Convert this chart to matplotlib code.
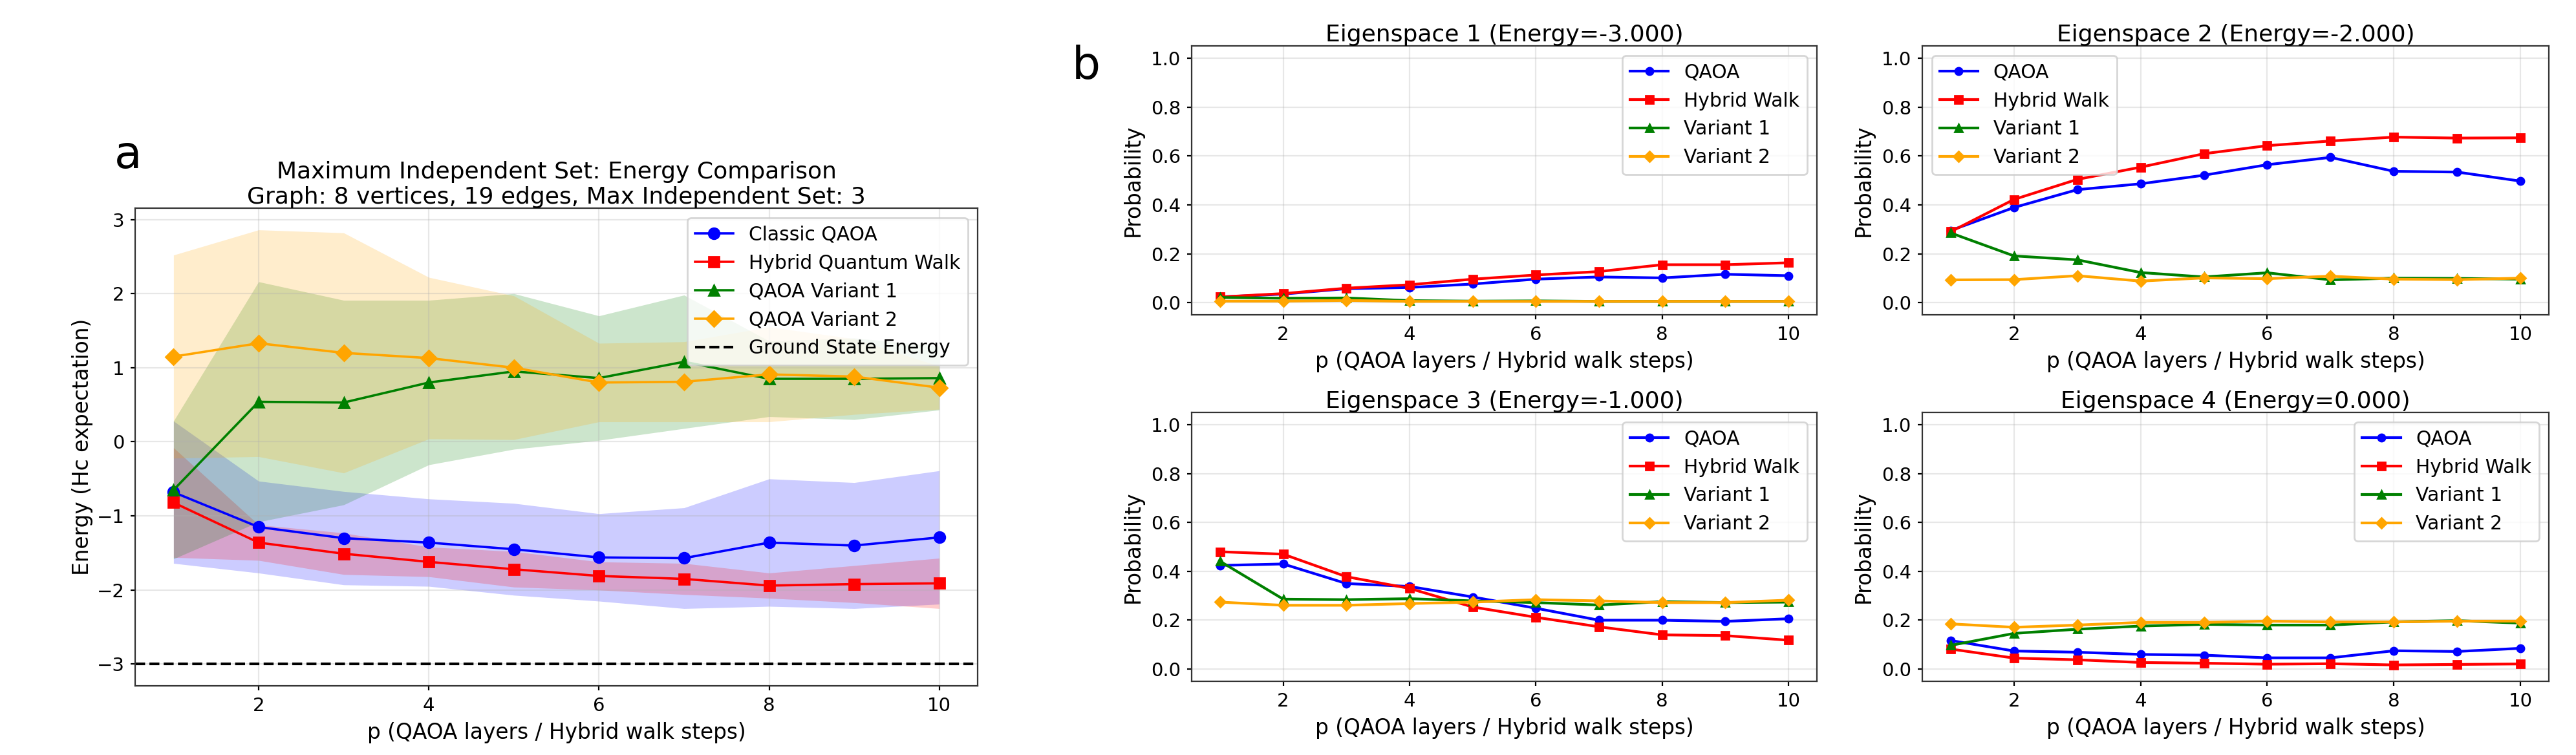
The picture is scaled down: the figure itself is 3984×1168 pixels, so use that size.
import matplotlib
matplotlib.use('Agg')
import matplotlib.pyplot as plt
import numpy as np

# p values (QAOA layers / hybrid walk steps)
p = np.arange(1, 11)

# panel a: mean energy and spread for each method
classic_mean = [-0.68, -1.15, -1.30, -1.36, -1.45, -1.56, -1.57, -1.36, -1.40, -1.29]
classic_std = [0.96, 0.62, 0.63, 0.59, 0.62, 0.59, 0.68, 0.86, 0.85, 0.90]
hybrid_mean = [-0.82, -1.36, -1.51, -1.62, -1.72, -1.81, -1.85, -1.94, -1.92, -1.91]
hybrid_std = [0.74, 0.24, 0.28, 0.20, 0.24, 0.19, 0.21, 0.17, 0.25, 0.34]
var1_mean = [-0.65, 0.54, 0.53, 0.80, 0.95, 0.86, 1.08, 0.85, 0.85, 0.86]
var1_std = [0.93, 1.62, 1.38, 1.11, 1.05, 0.84, 0.90, 0.51, 0.55, 0.43]
var2_mean = [1.15, 1.33, 1.20, 1.13, 1.00, 0.80, 0.81, 0.91, 0.88, 0.73]
var2_std = [1.37, 1.53, 1.62, 1.09, 0.97, 0.53, 0.54, 0.64, 0.51, 0.29]
ground_energy = -3.0

# panel b: probability in each eigenspace
eig_energies = [-3.0, -2.0, -1.0, 0.0]
qaoa_probs = [
    [0.023, 0.035, 0.057, 0.062, 0.076, 0.096, 0.105, 0.101, 0.116, 0.110],
    [0.295, 0.389, 0.462, 0.486, 0.521, 0.564, 0.594, 0.537, 0.534, 0.497],
    [0.424, 0.430, 0.350, 0.338, 0.295, 0.249, 0.200, 0.200, 0.195, 0.206],
    [0.117, 0.074, 0.069, 0.060, 0.057, 0.046, 0.046, 0.075, 0.072, 0.085],
]
hybrid_probs = [
    [0.023, 0.037, 0.059, 0.073, 0.096, 0.113, 0.127, 0.155, 0.155, 0.163],
    [0.290, 0.422, 0.504, 0.554, 0.609, 0.642, 0.661, 0.677, 0.673, 0.674],
    [0.480, 0.470, 0.378, 0.330, 0.254, 0.212, 0.173, 0.140, 0.137, 0.118],
    [0.082, 0.045, 0.038, 0.027, 0.024, 0.020, 0.022, 0.017, 0.019, 0.021],
]
var1_probs = [
    [0.021, 0.018, 0.019, 0.008, 0.006, 0.007, 0.005, 0.005, 0.005, 0.005],
    [0.285, 0.191, 0.175, 0.123, 0.105, 0.122, 0.093, 0.100, 0.099, 0.096],
    [0.441, 0.286, 0.284, 0.288, 0.279, 0.272, 0.262, 0.276, 0.272, 0.274],
    [0.097, 0.146, 0.163, 0.176, 0.183, 0.180, 0.180, 0.193, 0.198, 0.188],
]
var2_probs = [
    [0.006, 0.006, 0.009, 0.005, 0.005, 0.005, 0.005, 0.005, 0.005, 0.005],
    [0.093, 0.094, 0.110, 0.088, 0.101, 0.098, 0.108, 0.096, 0.094, 0.100],
    [0.274, 0.261, 0.261, 0.268, 0.274, 0.284, 0.279, 0.272, 0.272, 0.282],
    [0.185, 0.171, 0.180, 0.191, 0.191, 0.196, 0.193, 0.193, 0.196, 0.196],
]

TICK = 10.5
LABEL = 11.8
TITLE = 13
LEG = 10.7


def style_axes(ax):
    ax.grid(True, alpha=0.3)
    ax.tick_params(labelsize=TICK, length=2.5)
    for s in ax.spines.values():
        s.set_edgecolor('0.2')


fig = plt.figure(figsize=(19.92, 5.84), dpi=200)

# ---- panel a ----
ax = fig.add_axes([0.0525, 0.0916, 0.327, 0.6327])
series = [
    (classic_mean, classic_std, 'blue', 'o', 'Classic QAOA'),
    (hybrid_mean, hybrid_std, 'red', 's', 'Hybrid Quantum Walk'),
    (var1_mean, var1_std, 'green', '^', 'QAOA Variant 1'),
    (var2_mean, var2_std, 'orange', 'D', 'QAOA Variant 2'),
]
for mean, std, col, mk, lab in series:
    m = np.array(mean)
    s = np.array(std)
    ax.plot(p, m, color=col, marker=mk, markersize=6, linewidth=1.3, label=lab)
    ax.fill_between(p, m - s, m + s, color=col, alpha=0.2, linewidth=0)
ax.axhline(ground_energy, color='black', linestyle='--', linewidth=1.5,
           label='Ground State Energy')
ax.set_xlabel('p (QAOA layers / Hybrid walk steps)', fontsize=LABEL)
ax.set_ylabel('Energy (Hc expectation)', fontsize=LABEL, labelpad=2)
ax.set_title('Maximum Independent Set: Energy Comparison\n'
             'Graph: 8 vertices, 19 edges, Max Independent Set: 3',
             fontsize=TITLE, pad=2)
ax.legend(loc='upper right', fontsize=LEG)
style_axes(ax)

# ---- panel b ----
positions = [
    [0.4626, 0.583, 0.2427, 0.3562],
    [0.7462, 0.583, 0.2433, 0.3562],
    [0.4626, 0.0976, 0.2427, 0.3562],
    [0.7462, 0.0976, 0.2433, 0.3562],
]
legend_loc = ['upper right', 'upper left', 'upper right', 'upper right']
for i, pos in enumerate(positions):
    bx = fig.add_axes(pos)
    bx.plot(p, qaoa_probs[i], color='blue', marker='o', markersize=4,
            linewidth=1.5, label='QAOA')
    bx.plot(p, hybrid_probs[i], color='red', marker='s', markersize=4,
            linewidth=1.5, label='Hybrid Walk')
    bx.plot(p, var1_probs[i], color='green', marker='^', markersize=4,
            linewidth=1.5, label='Variant 1')
    bx.plot(p, var2_probs[i], color='orange', marker='D', markersize=4,
            linewidth=1.5, label='Variant 2')
    bx.set_ylim(-0.05, 1.05)
    bx.set_title('Eigenspace {0} (Energy={1:.3f})'.format(i + 1, eig_energies[i]),
                 fontsize=TITLE, pad=2)
    bx.set_xlabel('p (QAOA layers / Hybrid walk steps)', fontsize=LABEL)
    bx.set_ylabel('Probability', fontsize=LABEL)
    bx.legend(loc=legend_loc[i], fontsize=LEG)
    style_axes(bx)

fig.text(0.0445, 0.7774, 'a', fontsize=25, va='baseline')
fig.text(0.416, 0.8955, 'b', fontsize=25, va='baseline')

fig.savefig('out.png', dpi=200)
